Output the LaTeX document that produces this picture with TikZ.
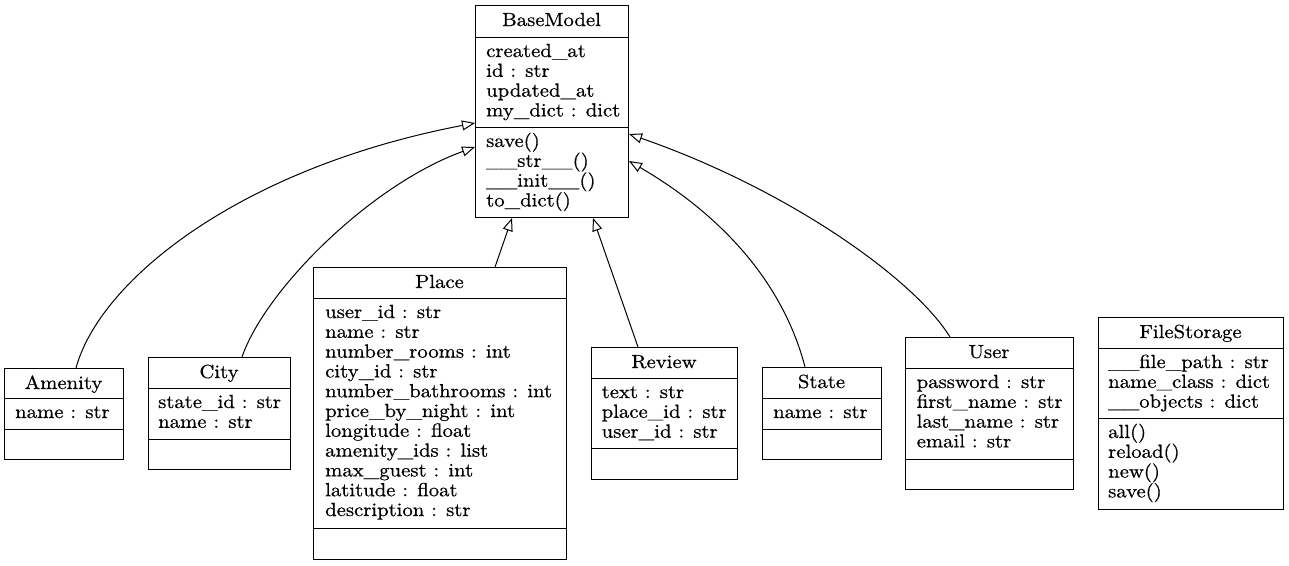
\documentclass[tikz,border=0pt]{standalone}
\usepackage{fontspec}
\setmainfont{lmroman10-regular.otf}[FakeBold=0.6]
\usepackage{graphicx}
\usetikzlibrary{arrows.meta}
\newcommand{\hs}[1]{\scalebox{1.09}[1]{#1}}
\tikzset{
  cls/.style={draw, line width=1pt, inner sep=0pt, anchor=north west},
  ttl/.style={anchor=base, inner sep=0pt},
  itm/.style={anchor=base west, inner sep=0pt},
  sepline/.style={line width=1pt},
  inh/.style={line width=1pt, -{Triangle[open, length=13pt, width=10pt]}},
}
\begin{document}
\begin{tikzpicture}[x=1pt, y=-1pt, font=\fontsize{19}{23}\selectfont]
\useasboundingbox (0,0) rectangle (1289,565);

% BaseModel
\node[cls, minimum width=153pt, minimum height=212pt] (base) at (475,5) {};
\draw[sepline] (475,37) -- (628,37);
\draw[sepline] (475,127) -- (628,127);
\node[ttl] (baset) at (551.5,26) {\hs{BaseModel}};
\foreach \t [count=\i from 0] in {created\_at, id : str, updated\_at, my\_dict : dict}
  \node[itm] (basea\i) at (486,57+19.8*\i) {\hs{\t}};
\foreach \t [count=\i from 0] in {save(), \_\_str\_\_(), \_\_init\_\_(), to\_dict()}
  \node[itm] (basem\i) at (486,147+19.8*\i) {\hs{\t}};

% Amenity
\node[cls, minimum width=119pt, minimum height=91pt] (amenity) at (4,368) {};
\draw[sepline] (4,398) -- (123,398);
\draw[sepline] (4,429) -- (123,429);
\node[ttl] (amenityt) at (63.5,389) {\hs{Amenity}};
\node[itm] (amenitya0) at (15,418) {\hs{name : str}};

% City
\node[cls, minimum width=142pt, minimum height=112pt] (city) at (148,357) {};
\draw[sepline] (148,388) -- (290,388);
\draw[sepline] (148,439) -- (290,439);
\node[ttl] (cityt) at (219,378) {\hs{City}};
\foreach \t [count=\i from 0] in {state\_id : str, name : str}
  \node[itm] (citya\i) at (158,408+19.8*\i) {\hs{\t}};

% Place
\node[cls, minimum width=253pt, minimum height=292pt] (place) at (313,267) {};
\draw[sepline] (313,298) -- (566,298);
\draw[sepline] (313,528) -- (566,528);
\node[ttl] (placet) at (439.5,288) {\hs{Place}};
\foreach \t [count=\i from 0] in {user\_id : str, name : str, number\_rooms : int, city\_id : str, number\_bathrooms : int, price\_by\_night : int, longitude : float, amenity\_ids : list, max\_guest : int, latitude : float, description : str}
  \node[itm] (placea\i) at (325,318+19.8*\i) {\hs{\t}};

% Review
\node[cls, minimum width=146pt, minimum height=132pt] (review) at (591,347) {};
\draw[sepline] (591,378) -- (737,378);
\draw[sepline] (591,448) -- (737,448);
\node[ttl] (reviewt) at (664,368) {\hs{Review}};
\foreach \t [count=\i from 0] in {text : str, place\_id : str, user\_id : str}
  \node[itm] (reviewa\i) at (601.5,398+19.8*\i) {\hs{\t}};

% State
\node[cls, minimum width=119pt, minimum height=92pt] (state) at (762,367) {};
\draw[sepline] (762,398) -- (881,398);
\draw[sepline] (762,429) -- (881,429);
\node[ttl] (statet) at (821.5,388) {\hs{State}};
\node[itm] (statea0) at (773,418) {\hs{name : str}};

% User
\node[cls, minimum width=168pt, minimum height=152pt] (user) at (905,337) {};
\draw[sepline] (905,368) -- (1073,368);
\draw[sepline] (905,459) -- (1073,459);
\node[ttl] (usert) at (989,358) {\hs{User}};
\foreach \t [count=\i from 0] in {password : str, first\_name : str, last\_name : str, email : str}
  \node[itm] (usera\i) at (916.5,388+19.8*\i) {\hs{\t}};

% FileStorage
\node[cls, minimum width=185pt, minimum height=192pt] (fs) at (1098,317) {};
\draw[sepline] (1098,348) -- (1283,348);
\draw[sepline] (1098,418) -- (1283,418);
\node[ttl] (fst) at (1190.5,338) {\hs{FileStorage}};
\foreach \t [count=\i from 0] in {\_\_file\_path : str, name\_class : dict, \_\_objects : dict}
  \node[itm] (fsa\i) at (1108,368+19.8*\i) {\hs{\t}};
\foreach \t [count=\i from 0] in {all(), reload(), new(), save()}
  \node[itm] (fsm\i) at (1108,438+19.8*\i) {\hs{\t}};

% Inheritance arrows
\draw[inh] ([xshift=72pt]amenity.north west) .. controls (100,280) and (240,168) .. ([yshift=-118pt]base.north west);
\draw[inh] ([xshift=94pt]city.north west) .. controls (265,290) and (370,185) .. ([yshift=-142pt]base.north west);
\draw[inh] ([xshift=182pt]place.north west) -- ([xshift=37pt]base.south west);
\draw[inh] ([xshift=47pt]review.north west) -- ([xshift=118pt]base.south west);
\draw[inh] ([xshift=43pt]state.north west) .. controls (785,290) and (730,220) .. ([yshift=-156pt]base.north east);
\draw[inh] ([xshift=45pt]user.north west) .. controls (915,280) and (790,190) .. ([yshift=-129pt]base.north east);
\end{tikzpicture}
\end{document}
